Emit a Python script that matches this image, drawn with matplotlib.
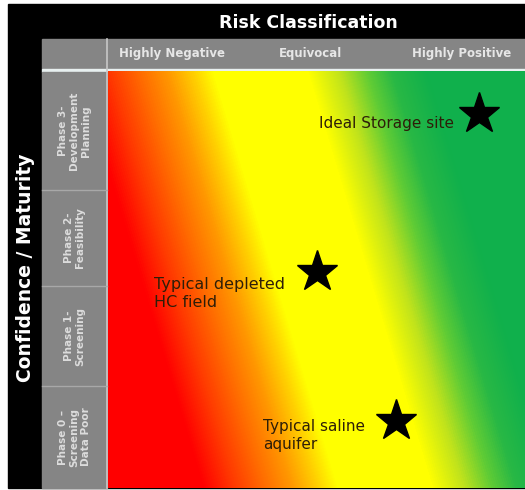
import numpy as np
import matplotlib.pyplot as plt
from matplotlib.colors import LinearSegmentedColormap, Normalize
from matplotlib.patches import Rectangle

# Données
titre = "Risk Classification"
axe_y = "Confidence / Maturity"
classes_risque = ["Highly Negative", "Equivocal", "Highly Positive"]
phases = ["Phase 3-\nDevelopment\nPlanning", "Phase 2-\nFeasibility",
          "Phase 1-\nScreening", "Phase 0 –\nScreening\nData Poor"]
sites = ["Ideal Storage site", "Typical depleted\nHC field", "Typical saline\naquifer"]
site_risque = [0.89, 0.50, 0.69]      # 0 = très négatif, 1 = très positif
site_maturite = [0.90, 0.52, 0.16]    # 0 = phase 0, 1 = phase 3

# Dégradé rouge -> jaune -> vert (positions en px le long du dégradé)
t_stops = [-130, -30, 0, 30, 59, 85, 105, 200, 232, 260, 285, 320, 420]
c_stops = ["#ff0000", "#ff0000", "#ff3800", "#ff6a00", "#ff9800", "#ffd000",
           "#ffff00", "#ffff00", "#c0e31c", "#60cc35", "#28b845", "#10b04c",
           "#10b04c"]
tmin, tmax = t_stops[0], t_stops[-1]
cmap = LinearSegmentedColormap.from_list(
    "risque", [((t - tmin) / (tmax - tmin), c) for t, c in zip(t_stops, c_stops)])

W, H = 525, 490
fig = plt.figure(figsize=(W / 100, H / 100), dpi=100)
ax = fig.add_axes([0, 0, 1, 1])
ax.set_xlim(0, W)
ax.set_ylim(H, 0)
ax.axis('off')

# cadre
x0, x1, x2 = 8, 42, 107      # noir / gris / dégradé
y0, y1, y2, y3 = 4, 39, 69, 72
yb = 488
ax.add_patch(Rectangle((x0, y0), W - x0, yb - y0, color='black', zorder=1))
ax.add_patch(Rectangle((x1, y1), W - x1, y2 - y1, color='#858585', zorder=2))
ax.add_patch(Rectangle((x1, y2), W - x1, y3 - y2, color='#e8f0f0', zorder=2))
ax.add_patch(Rectangle((x1, y3), x2 - x1, yb - y3, color='#858585', zorder=2))
ax.plot([x2, x2], [y1, yb], color='#c8c8c8', lw=1.2, zorder=3)

# fond en dégradé (incliné)
gx = np.arange(x2 + 1, W + 1, 1.0)
gy = np.arange(y3, yb + 1, 1.0)
GX, GY = np.meshgrid(gx, gy)
grad = (GX - (x2 + 1)) - 0.30 * (GY - y3)
ax.imshow(grad, cmap=cmap, norm=Normalize(tmin, tmax),
          extent=[x2 + 1, W, yb, y3], origin='upper',
          aspect='auto', interpolation='bilinear', zorder=2)

def px(r, m):
    return x2 + 1 + r * (W - x2 - 1), yb - m * (yb - y3)

# titre et en-têtes
ax.text(308, (y0 + y1) / 2 + 1, titre, color='white', fontsize=12.5,
        fontweight='bold', ha='center', va='center', zorder=4)
entete_x = [172, 310, 462]
for cx, lab in zip(entete_x, classes_risque):
    ax.text(cx, (y1 + y2) / 2 - 1, lab, color='#e6e6e6', fontsize=8.5,
            fontweight='bold', ha='center', va='center', zorder=4)

ax.text((x0 + x1) / 2 + 1, 268, axe_y, color='white', fontsize=13.5,
        fontweight='bold', rotation=90, ha='center', va='center', zorder=4)

# lignes des phases
bornes = [y3, 190, 286, 386, yb]
for i, lab in enumerate(phases):
    ax.text((x1 + x2) / 2, (bornes[i] + bornes[i + 1]) / 2, lab, color='#dcdcdc',
            fontsize=7.5, fontweight='bold', rotation=90, ha='center',
            va='center', linespacing=1.15, zorder=4)
    if i > 0:
        ax.plot([x1, x2], [bornes[i], bornes[i]], color='#a8a8a8', lw=1, zorder=3)

# sites
for nom, r, m in zip(sites, site_risque, site_maturite):
    sx, sy = px(r, m)
    ax.plot(sx, sy, marker='*', markersize=31, color='black', zorder=5)
    if nom.startswith("Ideal"):
        ax.text(sx - 25, sy + 10, nom, fontsize=11, color='#2e1e08',
                ha='right', va='center', zorder=5)
    elif "HC" in nom:
        ax.text(sx - 163, sy + 22, nom, fontsize=11.5, color='#2e1e08',
                ha='left', va='center', linespacing=1.25, zorder=5)
    else:
        ax.text(sx - 133, sy + 14, nom, fontsize=11, color='#2e1e08',
                ha='left', va='center', linespacing=1.3, zorder=5)

fig.savefig("out.png", dpi=100, facecolor='white')
